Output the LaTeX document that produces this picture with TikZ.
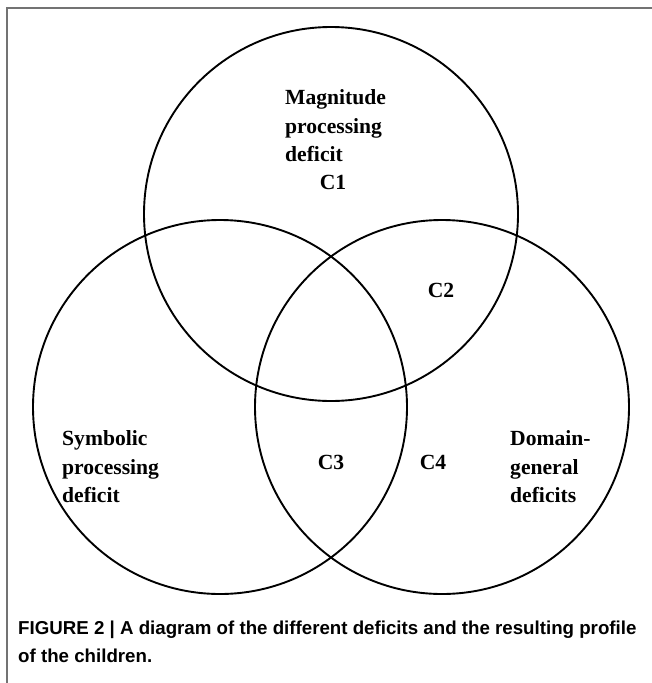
\documentclass[tikz,border=0pt]{standalone}
\usepackage{fontspec}
\setmainfont{Liberation Serif}
\setsansfont{Liberation Sans}
\begin{document}
\begin{tikzpicture}[x=1pt,y=-1pt,
  venn/.style={draw=black,line width=1.9pt},
  setlabel/.style={font=\fontsize{21.6}{28.5}\selectfont\bfseries,align=left,inner sep=0pt,anchor=west},
  cell/.style={font=\fontsize{21.6}{28}\selectfont\bfseries,inner sep=0pt},
  frameline/.style={draw=black!55,line width=1.5pt}]
\useasboundingbox (0,0) rectangle (652,683);
\coordinate (ftl) at (7,8);
\coordinate (ftr) at (652,8);
\coordinate (fbl) at (7,683);
\draw[frameline] (ftr) -- (ftl) -- (fbl);
\node[venn,circle,minimum size=374pt,inner sep=0pt] (mag) at (331,214) {};
\node[venn,circle,minimum size=374pt,inner sep=0pt] (sym) at (220,407) {};
\node[venn,circle,minimum size=374pt,inner sep=0pt] (dom) at (442,407) {};
\node[setlabel] (lmag) at (285,126) {Magnitude\\processing\\deficit};
\node[setlabel] (lsym) at (62,467) {Symbolic\\processing\\deficit};
\node[setlabel] (ldom) at (510,467) {Domain-\\general\\deficits};
\node[cell] (c1) at (333,182) {C1};
\node[cell] (c2) at (441,290) {C2};
\node[cell] (c3) at (331,462) {C3};
\node[cell] (c4) at (433,462) {C4};
\node[font=\sffamily\bfseries\fontsize{18.7}{28}\selectfont,align=left,inner sep=0pt,anchor=north west] (cap) at (18,621) {FIGURE 2 \textbar{} A diagram of the different deficits and the resulting profile\\of the children.};
\end{tikzpicture}
\end{document}
